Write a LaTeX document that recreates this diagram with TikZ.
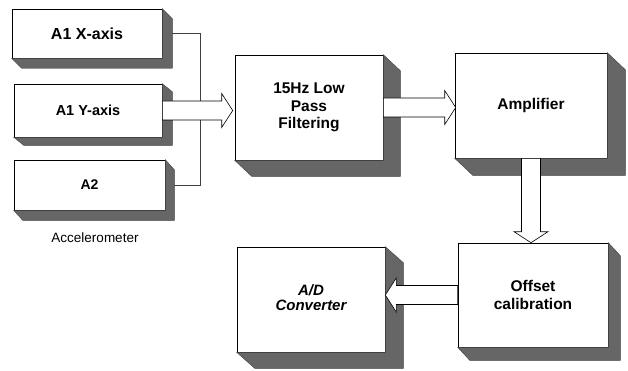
\documentclass[tikz,border=0pt]{standalone}
\usepackage{fontspec}
\setmainfont{Liberation Sans}
\usetikzlibrary{calc}

\tikzset{
  block/.style={draw, fill=white, line width=0.6pt, inner sep=2pt, align=center,
    font=\bfseries\fontsize{15.5}{17.5}\selectfont},
  shade/.style={fill=black!60, draw=black!75, line width=0.4pt},
  wire/.style={draw=black!75, line width=0.5pt},
  fat/.style={draw, fill=white, line width=0.6pt, line join=miter},
}

% extruded shadow under a block: node, dx, dy
\newcommand{\blockshadow}[3]{%
  \filldraw[shade] (#1.north east) -- ++(#2,#3) -- ($(#1.south east)+(#2,#3)$)
    -- ($(#1.south west)+(#2,#3)$) -- (#1.south west) -- (#1.south east) -- cycle;}

% hollow block arrow: tail, tip, angle
\newcommand{\fatarrow}[3]{%
  \draw[fat] let \p1=(#1), \p2=(#2), \n2={veclen(\x2-\x1,\y2-\y1)} in
    [shift={(\p1)}, rotate=#3]
    (0pt,-9.5pt) -- ({\n2-11pt},-9.5pt) -- ({\n2-11pt},-17pt) -- (\n2,0pt)
    -- ({\n2-11pt},17pt) -- ({\n2-11pt},9.5pt) -- (0pt,9.5pt) -- cycle;}

\begin{document}
\begin{tikzpicture}[x=1pt, y=1pt]

  \useasboundingbox (0,0) rectangle (628,370);

  % --- Accelerometer axes ---
  \node[block, minimum width=150, minimum height=49,
        font=\bfseries\fontsize{16}{18}\selectfont] (ax) at (87,336.5) {A1 X-axis};
  \node[block, minimum width=148, minimum height=53,
        font=\bfseries\fontsize{14.5}{16}\selectfont] (ay) at (88,259.5) {A1 Y-axis};
  \node[block, minimum width=151, minimum height=50,
        font=\bfseries\fontsize{14}{16}\selectfont] (a2) at (89.5,185) {A2};
  \node[font=\fontsize{13.5}{16}\selectfont] (acc) at (95,132) {Accelerometer};

  % --- Processing chain ---
  \node[block, minimum width=148, minimum height=105] (flt) at (309,262.5)
        {15Hz Low\\Pass\\Filtering};
  \node[block, minimum width=152, minimum height=105] (amp) at (531,264.5) {Amplifier};
  \node[block, minimum width=150, minimum height=104] (off) at (533,75)
        {Offset\\calibration};
  \node[block, minimum width=148, minimum height=105,
        font=\bfseries\itshape\fontsize{15}{16}\selectfont] (adc) at (311,70.5)
        {\raisebox{4pt}{\shortstack{A/D\\[1pt]Converter}}};

  % --- Wire joining the X and A2 outputs ---
  \coordinate (jx) at (200,0);
  \draw[wire] (ax.east) -- (ax.east -| jx) -- (a2.east -| jx) -- (a2.east);

  % --- Shadows ---
  \blockshadow{ax}{10}{-10}
  \blockshadow{ay}{10}{-8}
  \blockshadow{a2}{9}{-10}
  \blockshadow{flt}{17}{-16}
  \blockshadow{amp}{18}{-17}
  \blockshadow{off}{12}{-13}
  \blockshadow{adc}{18}{-16}

  % --- Block arrows ---
  \fatarrow{ay.east}{$(ay.east -| flt.west)+(-2,0)$}{0}
  \fatarrow{flt.east}{$(flt.east -| amp.west)+(1,0)$}{0}
  \fatarrow{amp.south}{amp.south |- off.north}{-90}
  \fatarrow{off.west}{off.west -| adc.east}{180}

\end{tikzpicture}
\end{document}
